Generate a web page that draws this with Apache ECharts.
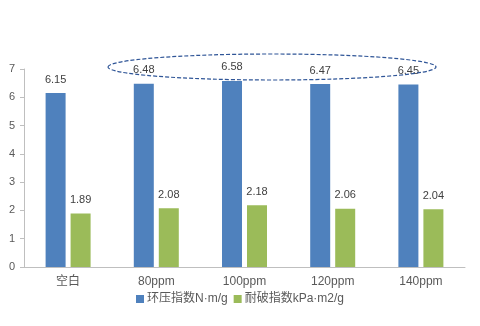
<!DOCTYPE html>
<html><head><meta charset="utf-8">
<script src="https://cdn.jsdelivr.net/npm/echarts@6/dist/echarts.min.js"></script>
<style>html,body{margin:0;padding:0;background:#fff}#c{width:480px;height:326px}</style>
</head><body><div id="c"></div>
<script>
const categories = ['空白','80ppm','100ppm','120ppm','140ppm'];
const ringCrush = [6.15,6.48,6.58,6.47,6.45];
const burstIndex = [1.89,2.08,2.18,2.06,2.04];
const seriesNames = ['环压指数N·m/g','耐破指数kPa·m2/g'];
const yTicks = {min:0,max:7,interval:1};

const chart = echarts.init(document.getElementById('c'));
const font = '"Liberation Sans","Noto Sans CJK SC",sans-serif';
const lbl = {show:true,position:'top',distance:8,color:'#404040',fontSize:11,fontFamily:font};
chart.setOption({
  animation:false,
  grid:{left:24,right:15,top:69,bottom:59},
  legend:{bottom:16,left:'center',itemWidth:8,itemHeight:8,itemGap:6,icon:'rect',
    textStyle:{color:'#595959',fontSize:12,fontFamily:font,padding:[0,0,0,-2]}},
  xAxis:{type:'category',data:categories,
    axisLine:{lineStyle:{color:'#BFBFBF'}},axisTick:{show:false},
    axisLabel:{color:'#595959',fontSize:12,fontFamily:font,margin:9}},
  yAxis:{type:'value',min:yTicks.min,max:yTicks.max,interval:yTicks.interval,
    axisLine:{show:true,lineStyle:{color:'#BFBFBF'}},
    axisTick:{show:true,inside:false,length:4,lineStyle:{color:'#BFBFBF'}},
    splitLine:{show:false},
    axisLabel:{color:'#595959',fontSize:11,fontFamily:font,margin:9}},
  series:[
    {name:seriesNames[0],type:'bar',data:ringCrush,barWidth:20,barGap:'25%',
     itemStyle:{color:'#4F81BD'},label:lbl},
    {name:seriesNames[1],type:'bar',data:burstIndex,barWidth:20,
     itemStyle:{color:'#9BBB59'},label:lbl}
  ],
  graphic:[{type:'ellipse',shape:{cx:272,cy:67,rx:164,ry:13},
    style:{fill:'none',stroke:'#2F5597',lineWidth:1.2,lineDash:[4,2]},z:10}]
});
</script></body></html>
